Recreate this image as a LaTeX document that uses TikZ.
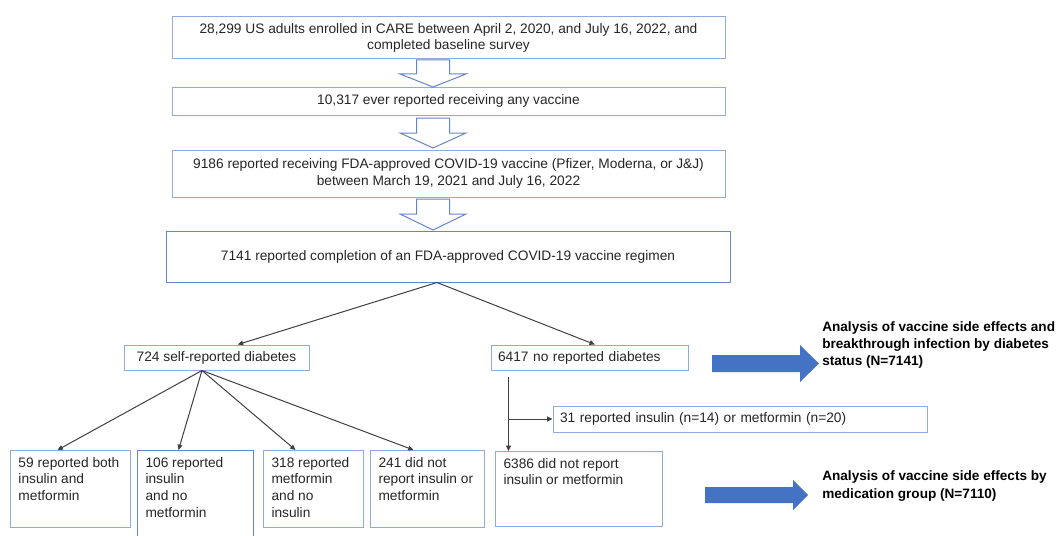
\documentclass[tikz,border=0pt]{standalone}
\usepackage{fontspec}
\setmainfont{Liberation Sans}
\usetikzlibrary{arrows.meta}
\definecolor{boxblue}{RGB}{143,170,220}
\definecolor{edgeblue}{RGB}{100,133,200}
\definecolor{fillblue}{RGB}{68,114,196}
\definecolor{ink}{RGB}{38,38,38}
\definecolor{linegray}{RGB}{64,64,64}

\begin{document}
\begin{tikzpicture}
          [x=0.75pt,y=-0.75pt,
          font=\fontsize{10.3}{12.6}\selectfont, text=ink,
          box/.style={draw=boxblue,line width=0.75pt,fill=white,inner sep=0pt},
          topbox/.style={box,align=center,minimum width=414.75pt},
          midbox/.style={box,minimum height=18.75pt},
          lowbox/.style={box,anchor=north west,inner xsep=6pt,inner ysep=5pt},
          conn/.style={draw=linegray,line width=0.75pt,-{Triangle[length=4pt,width=3.6pt]}},
          hollow/.style={draw=edgeblue,line width=0.75pt,fill=white,line join=miter},
          bigarrow/.style={fill=fillblue},
          result/.style={anchor=west,align=left,inner sep=0pt,text=black,
                         font=\bfseries\fontsize{10.2}{12.9}\selectfont}]

            \useasboundingbox (0,0) rectangle (1059,535);
            \clip (0,0) rectangle (1059,535);

            \node (enrolled) [topbox,minimum height=31.5pt] at (448.5,38) {28,299 US adults enrolled in CARE between April 2, 2020, and July 16, 2022, and\\completed baseline survey};
            \node (anyvax) [topbox,minimum height=21pt] at (448.5,101) {10,317 ever reported receiving any vaccine};
            \node (fdavax) [topbox,minimum height=35.25pt] at (448.5,173.5) {9186 reported receiving FDA-approved COVID-19 vaccine (Pfizer, Moderna, or J\&J)\\between March 19, 2021 and July 16, 2022};
            \node (regimen) [topbox,draw=edgeblue,minimum width=423pt,minimum height=38.25pt] at (448,256.5) {7141 reported completion of an FDA-approved COVID-19 vaccine regimen};

            % hollow arrows between the top boxes
            \foreach \ya/\yb/\yc in {60/74/87, 118/133/148, 199/214/230}
              \draw [hollow] (416.5,\ya) -- (449.5,\ya) -- (449.5,\yb) -- (466,\yb) -- (433,\yc) -- (400,\yb) -- (416.5,\yb) -- cycle;

            \node (diab) [midbox,minimum width=138.75pt] at (216.5,357.5) {724 self-reported diabetes};
            \node (nodiab) [midbox,inner xsep=5.25pt,text width=137.25pt,align=left] at (589.5,357.5) {6417 no reported diabetes};
            \node (medrep) [midbox,minimum height=19.5pt,inner xsep=5.25pt,text width=270pt,align=left] at (740,419) {31 reported insulin (n=14) or metformin (n=20)};

            \node (both) [lowbox] at (10,450) {\parbox[t][47.75pt][t]{78pt}{59 reported both\\insulin and\\metformin}};
            \node (insonly) [lowbox,draw=edgeblue] at (137,450) {\parbox[t][58pt][t]{75pt}{106 reported\\insulin\\and no\\metformin}};
            \node (metonly) [lowbox] at (263,450) {\parbox[t][47.75pt][t]{63pt}{318 reported\\metformin\\and no\\insulin}};
            \node (neither) [lowbox] at (370,450) {\parbox[t][47.75pt][t]{73.5pt}{241 did not\\report insulin or\\metformin}};
            \node (nomed) [lowbox] at (495,451) {\parbox[t][46.25pt][t]{113.25pt}{6386 did not report\\insulin or metformin}};

            \draw [conn] ([xshift=-8.25pt]regimen.south) -- ([xshift=16pt]diab.north);
            \draw [conn] ([xshift=-8.25pt]regimen.south) -- ([xshift=4pt]nodiab.north);

            \draw [conn] ([xshift=-10.9pt]diab.south) -- ([xshift=-9.75pt]both.north);
            \draw [conn] ([xshift=-10.9pt]diab.south) -- ([xshift=-12.75pt]insonly.north);
            \draw [conn] ([xshift=-10.9pt]diab.south) -- ([xshift=-13.5pt]metonly.north);
            \draw [conn] ([xshift=-10.9pt]diab.south) -- ([xshift=-10.5pt]neither.north);

            \coordinate (drop) at ([xshift=13.5pt,yshift=-5pt]nodiab.south west);
            \draw [conn] (drop) -- (drop |- nomed.north);
            \draw [conn] (drop |- medrep.west) -- (medrep.west);

            % block arrows to the analyses
            \fill [bigarrow] (712,355) -- (800,355) -- (800,345) -- (819,363.5) -- (800,382) -- (800,372) -- (712,372) -- cycle;
            \fill [bigarrow] (705,487) -- (793,487) -- (793,480) -- (808,495) -- (793,510) -- (793,503) -- (705,503) -- cycle;

            \node (anadiab) [result] at (822,345) {Analysis of vaccine side effects and\\breakthrough infection by diabetes\\status (N=7141)};
            \node (anamed) [result] at (822,486) {Analysis of vaccine side effects by\\medication group (N=7110)};

\end{tikzpicture}
\end{document}
